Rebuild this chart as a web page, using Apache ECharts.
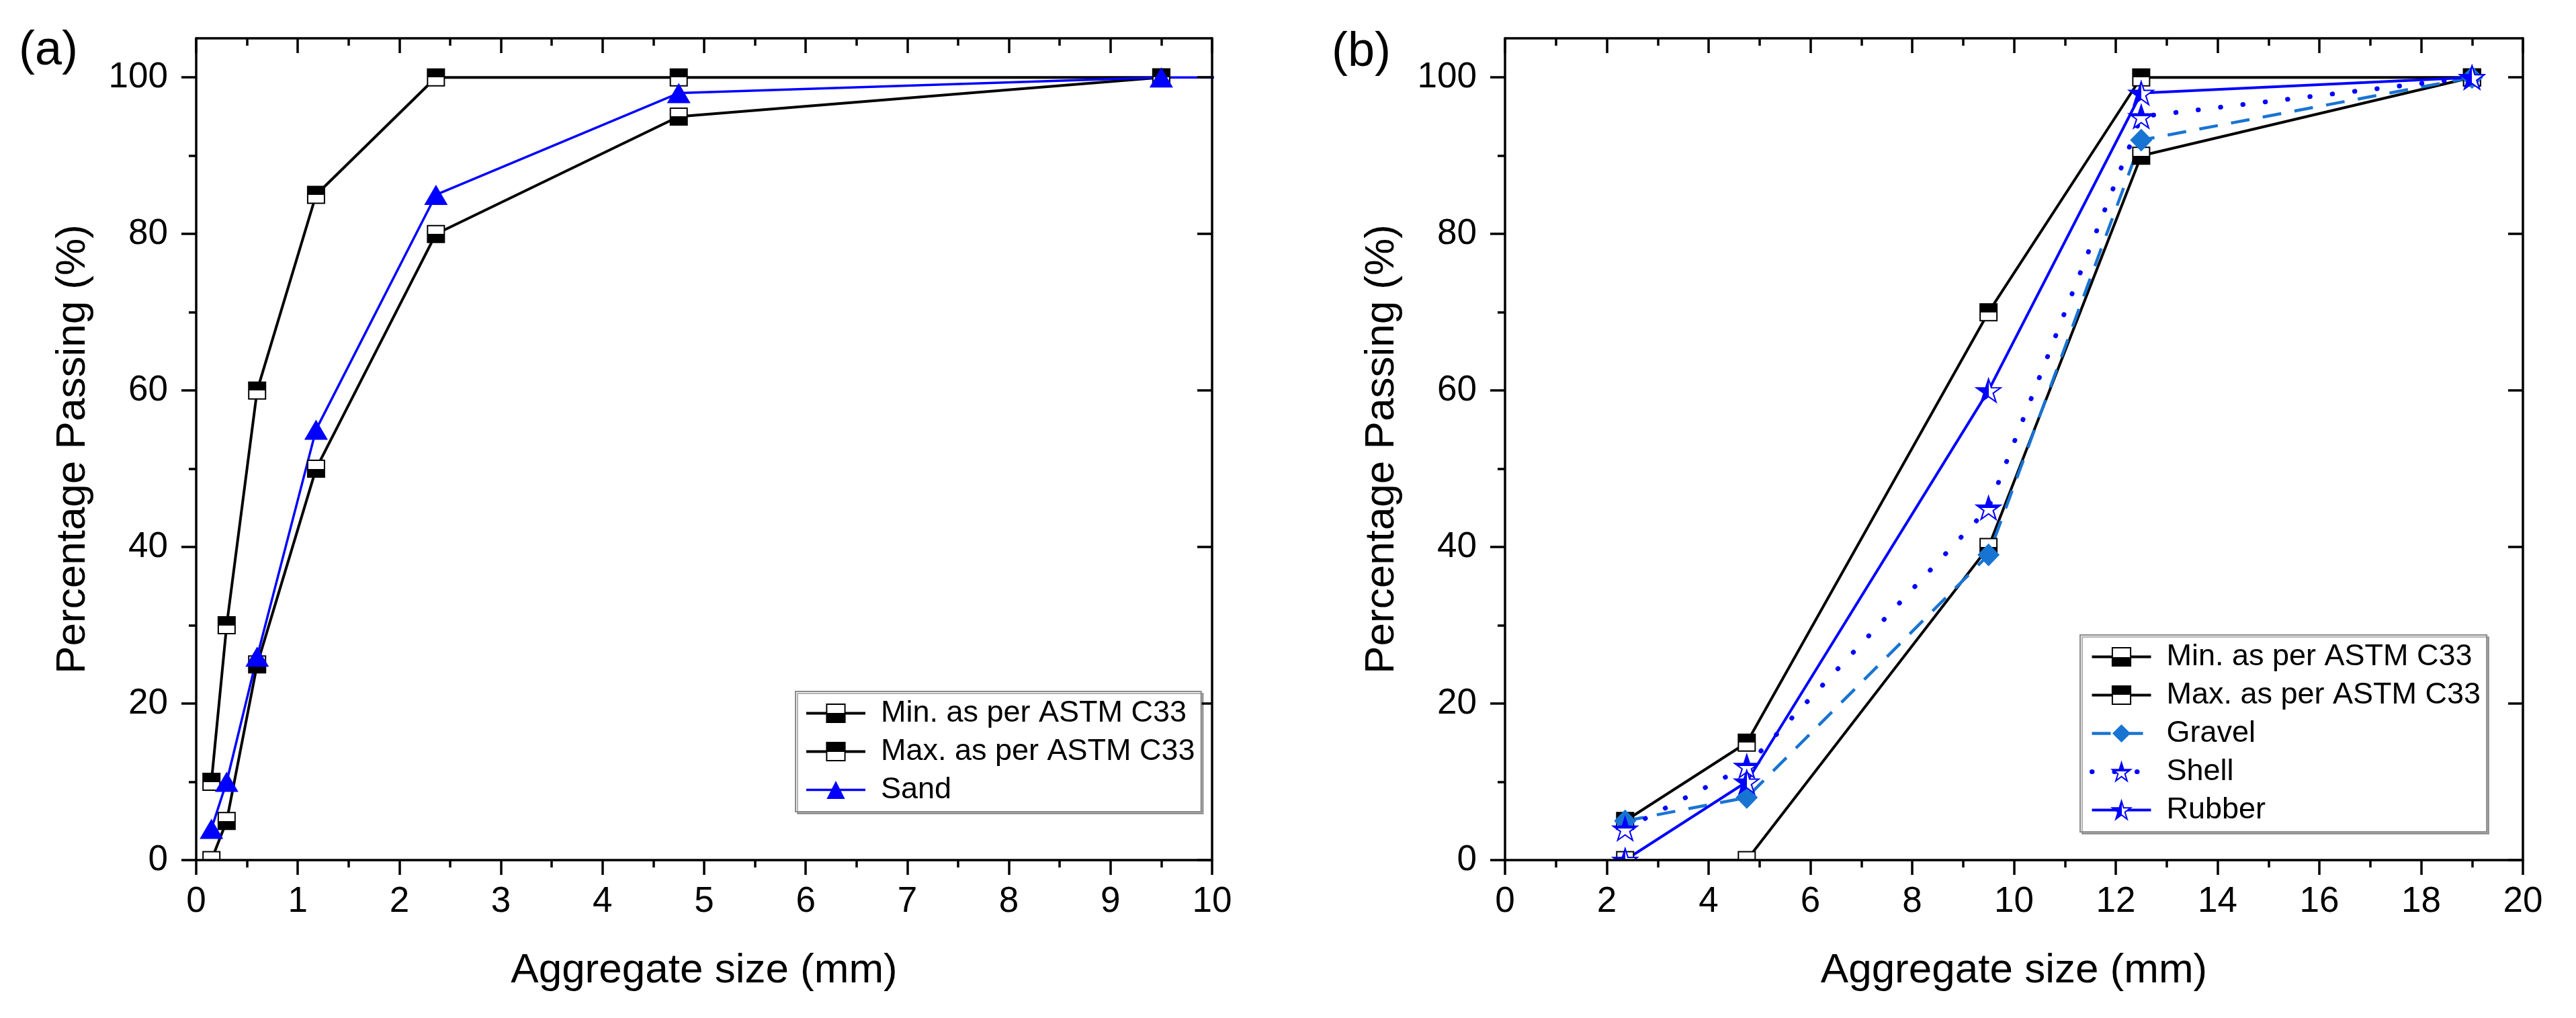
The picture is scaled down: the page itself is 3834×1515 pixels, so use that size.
<!DOCTYPE html>
<html>
<head>
<meta charset="utf-8">
<script src="https://cdn.jsdelivr.net/npm/echarts@6/dist/echarts.min.js"></script>
<style>
html,body{margin:0;padding:0;background:#fff;}
#chart{width:3834px;height:1515px;}
</style>
</head>
<body>
<div id="chart"></div>
<script>
// ---------- data ----------
const sieveA = [0.15, 0.3, 0.6, 1.18, 2.36, 4.75, 9.5];
const minA   = [0, 5, 25, 50, 80, 95, 100];
const maxA   = [10, 30, 60, 85, 100, 100, 100];
const sandX  = [0.15, 0.3, 0.6, 1.18, 2.36, 4.75, 9.5, 12.5];
const sandY  = [4, 10, 26, 55, 85, 98, 100, 100];

const sieveB = [2.36, 4.75, 9.5, 12.5, 19];
const minB   = [0, 0, 40, 90, 100];
const maxB   = [5, 15, 70, 100, 100];
const gravel = [5, 8, 39, 92, 100];
const shell  = [4, 12, 45, 95, 100];
const rubber = [0, 10, 60, 98, 100];

const yMajor = [0, 20, 40, 60, 80, 100];
const yMinor = [10, 30, 50, 70, 90];

const namesA = ['Min. as per ASTM C33', 'Max. as per ASTM C33', 'Sand'];
const namesB = ['Min. as per ASTM C33', 'Max. as per ASTM C33', 'Gravel', 'Shell', 'Rubber'];

// ---------- helpers ----------
const FONT = '"Liberation Sans", Arial, sans-serif';
const zip = (xs, ys) => xs.map((x, i) => [x, ys[i]]);
const half = (a, b, horizontal) => ({
  type: 'linear', x: 0, y: 0, x2: horizontal ? 1 : 0, y2: horizontal ? 0 : 1,
  colorStops: [
    {offset: 0, color: a}, {offset: 0.5, color: a},
    {offset: 0.5, color: b}, {offset: 1, color: b}
  ]
});
const STAR = 'path://M50 0L61.23 34.55L97.55 34.55L68.17 55.9L79.39 90.45L50 69.1L20.61 90.45L31.83 55.9L2.45 34.55L38.77 34.55Z';
const BLUE = '#0000ff';
const GRAVEL = '#1874d2';

const G = [
  {left: 292, top: 57, width: 1512, height: 1223},
  {left: 2240, top: 57, width: 1515, height: 1223}
];

const AX_W = 3.5, TICK = 22, MINOR = 11;

function xAxes(gi, max, interval) {
  return [
    {
      gridIndex: gi, type: 'value', min: 0, max: max, interval: interval, position: 'bottom', z: 10,
      axisLine: {onZero: false, lineStyle: {color: '#000', width: AX_W}},
      axisTick: {length: TICK, lineStyle: {color: '#000', width: AX_W}},
      minorTick: {show: true, splitNumber: 2, length: MINOR, lineStyle: {color: '#000', width: AX_W}},
      axisLabel: {color: '#000', fontSize: 53, fontFamily: FONT, margin: 36},
      splitLine: {show: false},
      name: 'Aggregate size (mm)', nameLocation: 'middle', nameGap: 134,
      nameTextStyle: {color: '#000', fontSize: 62, fontFamily: FONT}
    },
    {
      gridIndex: gi, type: 'value', min: 0, max: max, interval: interval, position: 'top', z: 10,
      axisLine: {onZero: false, lineStyle: {color: '#000', width: AX_W}},
      axisTick: {inside: true, length: TICK, lineStyle: {color: '#000', width: AX_W}},
      minorTick: {show: true, splitNumber: 2, length: MINOR, lineStyle: {color: '#000', width: AX_W}},
      axisLabel: {show: false},
      splitLine: {show: false}
    }
  ];
}

function yAxes(gi) {
  const base = {gridIndex: gi, type: 'value', min: 0, max: 105, z: 10, splitLine: {show: false}};
  return [
    Object.assign({}, base, {
      position: 'left',
      axisLine: {onZero: false, lineStyle: {color: '#000', width: AX_W}},
      axisTick: {length: TICK, customValues: yMajor, lineStyle: {color: '#000', width: AX_W}},
      axisLabel: {customValues: yMajor, color: '#000', fontSize: 53, fontFamily: FONT, margin: 42},
      name: 'Percentage Passing (%)', nameLocation: 'middle', nameGap: 152,
      nameTextStyle: {color: '#000', fontSize: 62, fontFamily: FONT}
    }),
    Object.assign({}, base, {
      position: 'left',
      axisLine: {show: false},
      axisTick: {length: MINOR, customValues: yMinor, lineStyle: {color: '#000', width: AX_W}},
      axisLabel: {show: false}
    }),
    Object.assign({}, base, {
      position: 'right',
      axisLine: {onZero: false, lineStyle: {color: '#000', width: AX_W}},
      axisTick: {inside: true, length: TICK, customValues: yMajor, lineStyle: {color: '#000', width: AX_W}},
      axisLabel: {show: false}
    }),
    Object.assign({}, base, {
      position: 'right',
      axisLine: {show: false},
      axisTick: {inside: true, length: MINOR, customValues: yMinor, lineStyle: {color: '#000', width: AX_W}},
      axisLabel: {show: false}
    })
  ];
}

function line(name, xi, yi, data, extra) {
  return Object.assign({
    name: name, type: 'line', xAxisIndex: xi, yAxisIndex: yi, data: data,
    clip: true, animation: false, z: 2, emphasis: {disabled: true}
  }, extra);
}

const minStyle = {
  symbol: 'rect', symbolSize: 25,
  itemStyle: {color: half('#ffffff', '#000000', false), borderColor: '#000', borderWidth: 2},
  lineStyle: {color: '#000', width: 4}
};
const maxStyle = {
  symbol: 'rect', symbolSize: 25,
  itemStyle: {color: half('#000000', '#ffffff', false), borderColor: '#000', borderWidth: 2},
  lineStyle: {color: '#000', width: 4}
};

const series = [
  line(namesA[0], 0, 0, zip(sieveA, minA), minStyle),
  line(namesA[1], 0, 0, zip(sieveA, maxA), maxStyle),
  line(namesA[2], 0, 0, zip(sandX, sandY), {
    symbol: 'triangle', symbolSize: [35, 30],
    itemStyle: {color: BLUE},
    lineStyle: {color: BLUE, width: 3.5}
  }),
  line(namesB[0], 2, 4, zip(sieveB, minB), minStyle),
  line(namesB[1], 2, 4, zip(sieveB, maxB), maxStyle),
  line(namesB[2], 2, 4, zip(sieveB, gravel), {
    symbol: 'diamond', symbolSize: [33, 34],
    itemStyle: {color: GRAVEL},
    lineStyle: {color: GRAVEL, width: 4.5, type: [28, 20]}
  }),
  line(namesB[3], 2, 4, zip(sieveB, shell), {
    symbol: STAR, symbolSize: [36, 34],
    itemStyle: {color: half(BLUE, '#ffffff', false), borderColor: BLUE, borderWidth: 2},
    lineStyle: {color: BLUE, width: 7, type: [0.5, 33], cap: 'round'}
  }),
  line(namesB[4], 2, 4, zip(sieveB, rubber), {
    symbol: STAR, symbolSize: [36, 34],
    itemStyle: {color: half(BLUE, '#ffffff', true), borderColor: BLUE, borderWidth: 2},
    lineStyle: {color: BLUE, width: 4}
  })
];

const legendBase = {
  orient: 'vertical', selectedMode: false, z: 20,
  itemWidth: 88, itemHeight: 34, itemGap: 12, padding: [10, 9, 10, 14],
  backgroundColor: '#fff', borderColor: '#8a8a8a', borderWidth: 2,
  shadowColor: 'rgba(0,0,0,0.3)', shadowOffsetX: 3, shadowOffsetY: 3, shadowBlur: 0,
  lineStyle: {width: 'inherit', type: 'inherit', color: 'inherit'},
  textStyle: {color: '#000', fontSize: 45, fontFamily: FONT, padding: [0, 0, 0, 18]}
};

const option = {
  animation: false,
  backgroundColor: '#fff',
  grid: G,
  xAxis: [].concat(xAxes(0, 10, 1), xAxes(1, 20, 2)),
  yAxis: [].concat(yAxes(0), yAxes(1)),
  legend: [
    Object.assign({}, legendBase, {data: namesA, left: 1184, top: 1029}),
    Object.assign({}, legendBase, {data: namesB, left: 3096, top: 945})
  ],
  graphic: [
    {type: 'rect', z: 5, silent: true, shape: {x: 0, y: 1281, width: 3834, height: 240}, style: {fill: '#fff'}},
    {type: 'text', z: 10, style: {text: '(a)', x: 28, y: 76, fill: '#000', font: '72px ' + FONT, align: 'left', verticalAlign: 'middle'}},
    {type: 'text', z: 10, style: {text: '(b)', x: 1982, y: 78, fill: '#000', font: '72px ' + FONT, align: 'left', verticalAlign: 'middle'}}
  ],
  series: series
};

const chart = echarts.init(document.getElementById('chart'), null, {renderer: 'canvas'});
chart.setOption(option);
</script>
</body>
</html>
